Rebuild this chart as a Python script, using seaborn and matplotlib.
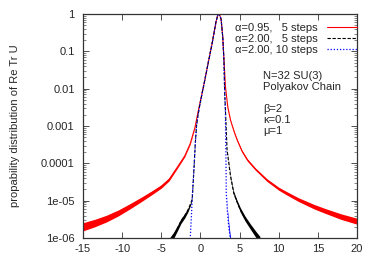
import numpy as np
import pandas as pd
import matplotlib
matplotlib.use("Agg")
import matplotlib.pyplot as plt
import matplotlib.ticker as mticker
import seaborn as sns

# values, probability given as log10 (decades)
red_x = [-15, -13.5, -12, -10.5, -9, -7.5, -6, -5, -4, -3, -2, -1.3, -0.7, -0.3,
         0, 0.5, 1, 1.5, 2, 2.2, 2.34, 2.5, 2.64, 2.85, 3.0, 3.2, 3.5, 3.85, 4.3,
         4.7, 5.3, 6, 7, 8.5, 10, 11, 12.5, 14.5, 16, 18, 20]
red_logp = [-5.70, -5.60, -5.48, -5.33, -5.15, -4.96, -4.76, -4.62, -4.43, -4.12,
            -3.80, -3.47, -3.04, -2.62, -2.33, -1.83, -1.30, -0.78, -0.20, -0.04,
            0.0, -0.05, -0.14, -0.61, -1.20, -1.95, -2.50, -2.85, -3.15, -3.38,
            -3.67, -3.91, -4.15, -4.45, -4.68, -4.80, -4.97, -5.16, -5.28, -5.43, -5.55]
red_noise = [0.11, 0.10, 0.09, 0.08, 0.07, 0.06, 0.05, 0.045, 0.04, 0.03, 0.025, 0.02,
             0.01, 0.0, 0.0, 0.0, 0.0, 0.0, 0.0, 0.0, 0.0, 0.0, 0.0, 0.0, 0.0, 0.0,
             0.01, 0.01, 0.015, 0.02, 0.025, 0.03, 0.03, 0.035, 0.04, 0.045, 0.05, 0.06,
             0.065, 0.075, 0.08]

black_x = [-4.0, -3.4, -2.9, -2.5, -2.0, -1.6, -1.25, -1.05, -0.95, -0.8, -0.65, -0.5,
           -0.3, 0, 0.5, 1, 1.5, 2, 2.2, 2.34, 2.5, 2.64, 2.85, 3.0, 3.1, 3.2, 3.4,
           3.85, 4.25, 4.7, 5.1, 5.7, 6.4, 7.0, 7.6]
black_logp = [-6.10, -5.92, -5.72, -5.55, -5.40, -5.25, -5.08, -4.95, -4.60, -4.05,
              -3.45, -3.00, -2.70, -2.35, -1.83, -1.30, -0.78, -0.20, -0.04, 0.0,
              -0.05, -0.14, -0.61, -1.23, -2.12, -2.60, -3.64, -4.36, -4.80, -5.05,
              -5.25, -5.48, -5.70, -5.88, -6.05]
black_noise = [0.09, 0.08, 0.07, 0.065, 0.06, 0.05, 0.035, 0.015, 0.0, 0.0, 0.0, 0.0,
               0.0, 0.0, 0.0, 0.0, 0.0, 0.0, 0.0, 0.0, 0.0, 0.0, 0.0, 0.0, 0.0, 0.0,
               0.015, 0.03, 0.045, 0.05, 0.06, 0.065, 0.07, 0.08, 0.09]

blue_x = [-1.35, -1.25, -1.15, -1.05, -0.95, -0.8, -0.65, -0.5, -0.3, 0, 0.5, 1, 1.5,
          2, 2.2, 2.34, 2.5, 2.64, 2.85, 3.0, 3.1, 3.19, 3.22, 3.25, 3.28, 3.3, 3.45,
          3.62, 3.8, 4.0]
blue_logp = [-6.20, -5.80, -5.40, -4.95, -4.60, -4.05, -3.45, -3.00, -2.70, -2.35,
             -1.83, -1.30, -0.78, -0.20, -0.04, 0.0, -0.05, -0.14, -0.61, -1.23,
             -2.12, -2.57, -3.20, -3.64, -4.30, -4.80, -5.30, -5.70, -6.00, -6.20]
blue_noise = [0.0] * 26 + [0.06, 0.10, 0.08, 0.06]

labels = ["\u03b1=0.95,   5 steps", "\u03b1=2.00,   5 steps", "\u03b1=2.00, 10 steps"]
info_lines = ["N=32 SU(3)", "Polyakov Chain", "", "\u03b2=2", "\u03ba=0.1", "\u03bc=1"]
ytick_vals = [1e-6, 1e-5, 1e-4, 1e-3, 1e-2, 1e-1, 1]
ytick_labels = ["1e-06", "1e-05", "0.0001", "0.001", "0.01", "0.1", "1"]
xticks = [-15, -10, -5, 0, 5, 10, 15, 20]

sns.set_style("ticks")
plt.rcParams["font.family"] = ["Liberation Sans", "DejaVu Sans"]
plt.rcParams["font.size"] = 8

fig = plt.figure(figsize=(3.74, 2.62), dpi=100)
ax = fig.add_axes([83 / 374, 1 - 238 / 262, 274 / 374, 224 / 262])

series = [
    (red_x, red_logp, red_noise, "#ff0000", "-", labels[0], 0.8),
    (black_x, black_logp, black_noise, "#000000", (0, (3, 1.5)), labels[1], 0.8),
    (blue_x, blue_logp, blue_noise, "#0000ff", (0, (1, 1.5)), labels[2], 0.9),
]
for xs, lp, nz, col, ls, lab, lw in series:
    df = pd.DataFrame({"x": xs, "p": 10 ** np.array(lp)})
    lo = 10 ** (np.array(lp) - np.array(nz))
    hi = 10 ** (np.array(lp) + np.array(nz))
    ax.fill_between(xs, lo, hi, color=col, lw=0)
    sns.lineplot(data=df, x="x", y="p", ax=ax, color=col, linestyle=ls,
                 linewidth=lw, sort=False, estimator=None, label=lab)

ax.set_yscale("log")
ax.set_xlim(-15, 20)
ax.set_ylim(1e-6, 1)
ax.set_xticks(xticks)
ax.set_xticklabels([str(v) for v in xticks])
ax.set_yticks(ytick_vals)
ax.set_yticklabels(ytick_labels)
ax.yaxis.set_minor_locator(mticker.LogLocator(base=10, subs=np.arange(2, 10)))
ax.yaxis.set_minor_formatter(mticker.NullFormatter())
ax.xaxis.set_minor_locator(mticker.NullLocator())
ax.tick_params(which="major", direction="in", length=4.5, width=0.6,
               top=True, right=True, labelsize=8, color="#333333")
ax.tick_params(which="minor", direction="in", length=2, width=0.5,
               right=True, color="#555555")
ax.tick_params(axis="y", pad=6)
ax.tick_params(axis="x", pad=4)
for sp in ax.spines.values():
    sp.set_visible(True)
    sp.set_linewidth(0.9)
    sp.set_color("#333333")

ax.set_xlabel("")
ax.set_ylabel("propability distribution of Re Tr U", fontsize=8)
ax.yaxis.set_label_coords((20 - 83) / 274, 0.5)

leg = ax.legend(loc="upper right", bbox_to_anchor=(1.0, 1 - 8.8 / 224),
                frameon=False, markerfirst=False, fontsize=8,
                handlelength=2.7, handletextpad=0.8, labelspacing=0.1,
                borderaxespad=0, borderpad=0)

y0 = 1 - (76 - 14) / 224
for i, t in enumerate(info_lines):
    ax.text((263 - 83) / 274, y0 - i * 11.0 / 224, t, transform=ax.transAxes,
            fontsize=8, va="center", ha="left")

fig.savefig("out.png", dpi=100)
